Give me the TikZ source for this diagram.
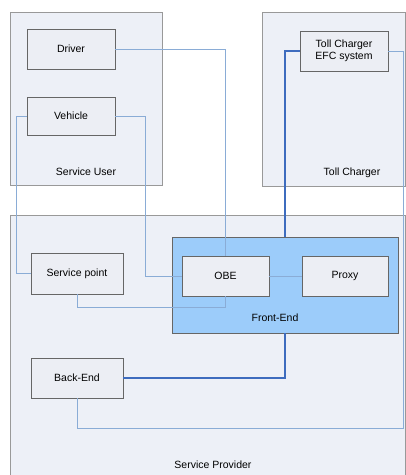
\documentclass[tikz,border=0pt]{standalone}
\usepackage{fontspec}
\setmainfont{Liberation Sans}
\usepackage{tikz}

\definecolor{boxfill}{RGB}{237,240,247}
\definecolor{unitfill}{RGB}{236,238,244}
\definecolor{frontfill}{RGB}{156,204,250}
\definecolor{thinline}{RGB}{138,172,214}
\definecolor{thickline}{RGB}{62,108,190}

\tikzset{
    zone/.style={draw=gray!80,fill=boxfill,line width=0.8pt,inner sep=0pt},
    unit/.style={draw=black!60,fill=unitfill,line width=0.8pt,minimum width=88,minimum height=40,
        align=center,font=\fontsize{10.5}{11}\selectfont},
    lbl/.style={font=\fontsize{10.5}{11}\selectfont},
    link/.style={draw=thinline,line width=0.8pt},
    mainlink/.style={draw=thickline,line width=2.4pt}
}

\begin{document}
\begin{tikzpicture}[x=1pt,y=-1pt]
        \useasboundingbox[fill=white] (0,0) rectangle (406,475);
        % zones
        \node[zone,minimum width=152,minimum height=173] (user) at (86,98.5) {};
        \node[zone,minimum width=143,minimum height=174] (toll) at (333.5,99) {};
        \node[zone,minimum width=395,minimum height=263] (provider) at (207.5,346.5) {};
        \node[draw=black!60,fill=frontfill,line width=0.8pt,minimum width=226,minimum height=96] (front) at (285,285) {};
        \node[lbl] at (86,172) {Service User};
        \node[lbl] at (352,173) {Toll Charger};
        \node[lbl] at (275,318) {Front-End};
        \node[lbl] at (213,465) {Service Provider};
        % units
        \node[unit] (driver) at (71,49) {Driver};
        \node[unit,minimum height=38] (vehicle) at (71,116) {Vehicle};
        \node[unit,minimum width=92,minimum height=41] (spoint) at (77,273.5) {Service point};
        \node[unit,minimum width=92] (backend) at (77,378) {Back-End};
        \node[unit,minimum width=87] (obe) at (225.5,276) {OBE};
        \node[unit,minimum width=86] (proxy) at (345,276) {Proxy};
        \node[unit,minimum height=40,inner sep=1pt,font=\fontsize{10.5}{11.5}\selectfont] (efc) at (344,51) {Toll Charger\\EFC system};
        \coordinate (rcorner) at (403,428);
        % links
        \draw[link] (driver.east) -| (obe.north);
        \draw[link] (vehicle.west) -- ++(-10,0) |- (spoint.west);
        \draw[link] (vehicle.east) -- ++(30,0) |- (obe.west);
        \draw[link] (spoint.south) -- ++(0,13) -| (obe.south);
        \draw[link] (obe.east) -- (proxy.west);
        \draw[link] (efc.east) -| (rcorner) -| (backend.south);
        \draw[mainlink] (efc.west) -| (front.north);
        \draw[mainlink] (front.south) |- (backend.east);
    \end{tikzpicture}
\end{document}
